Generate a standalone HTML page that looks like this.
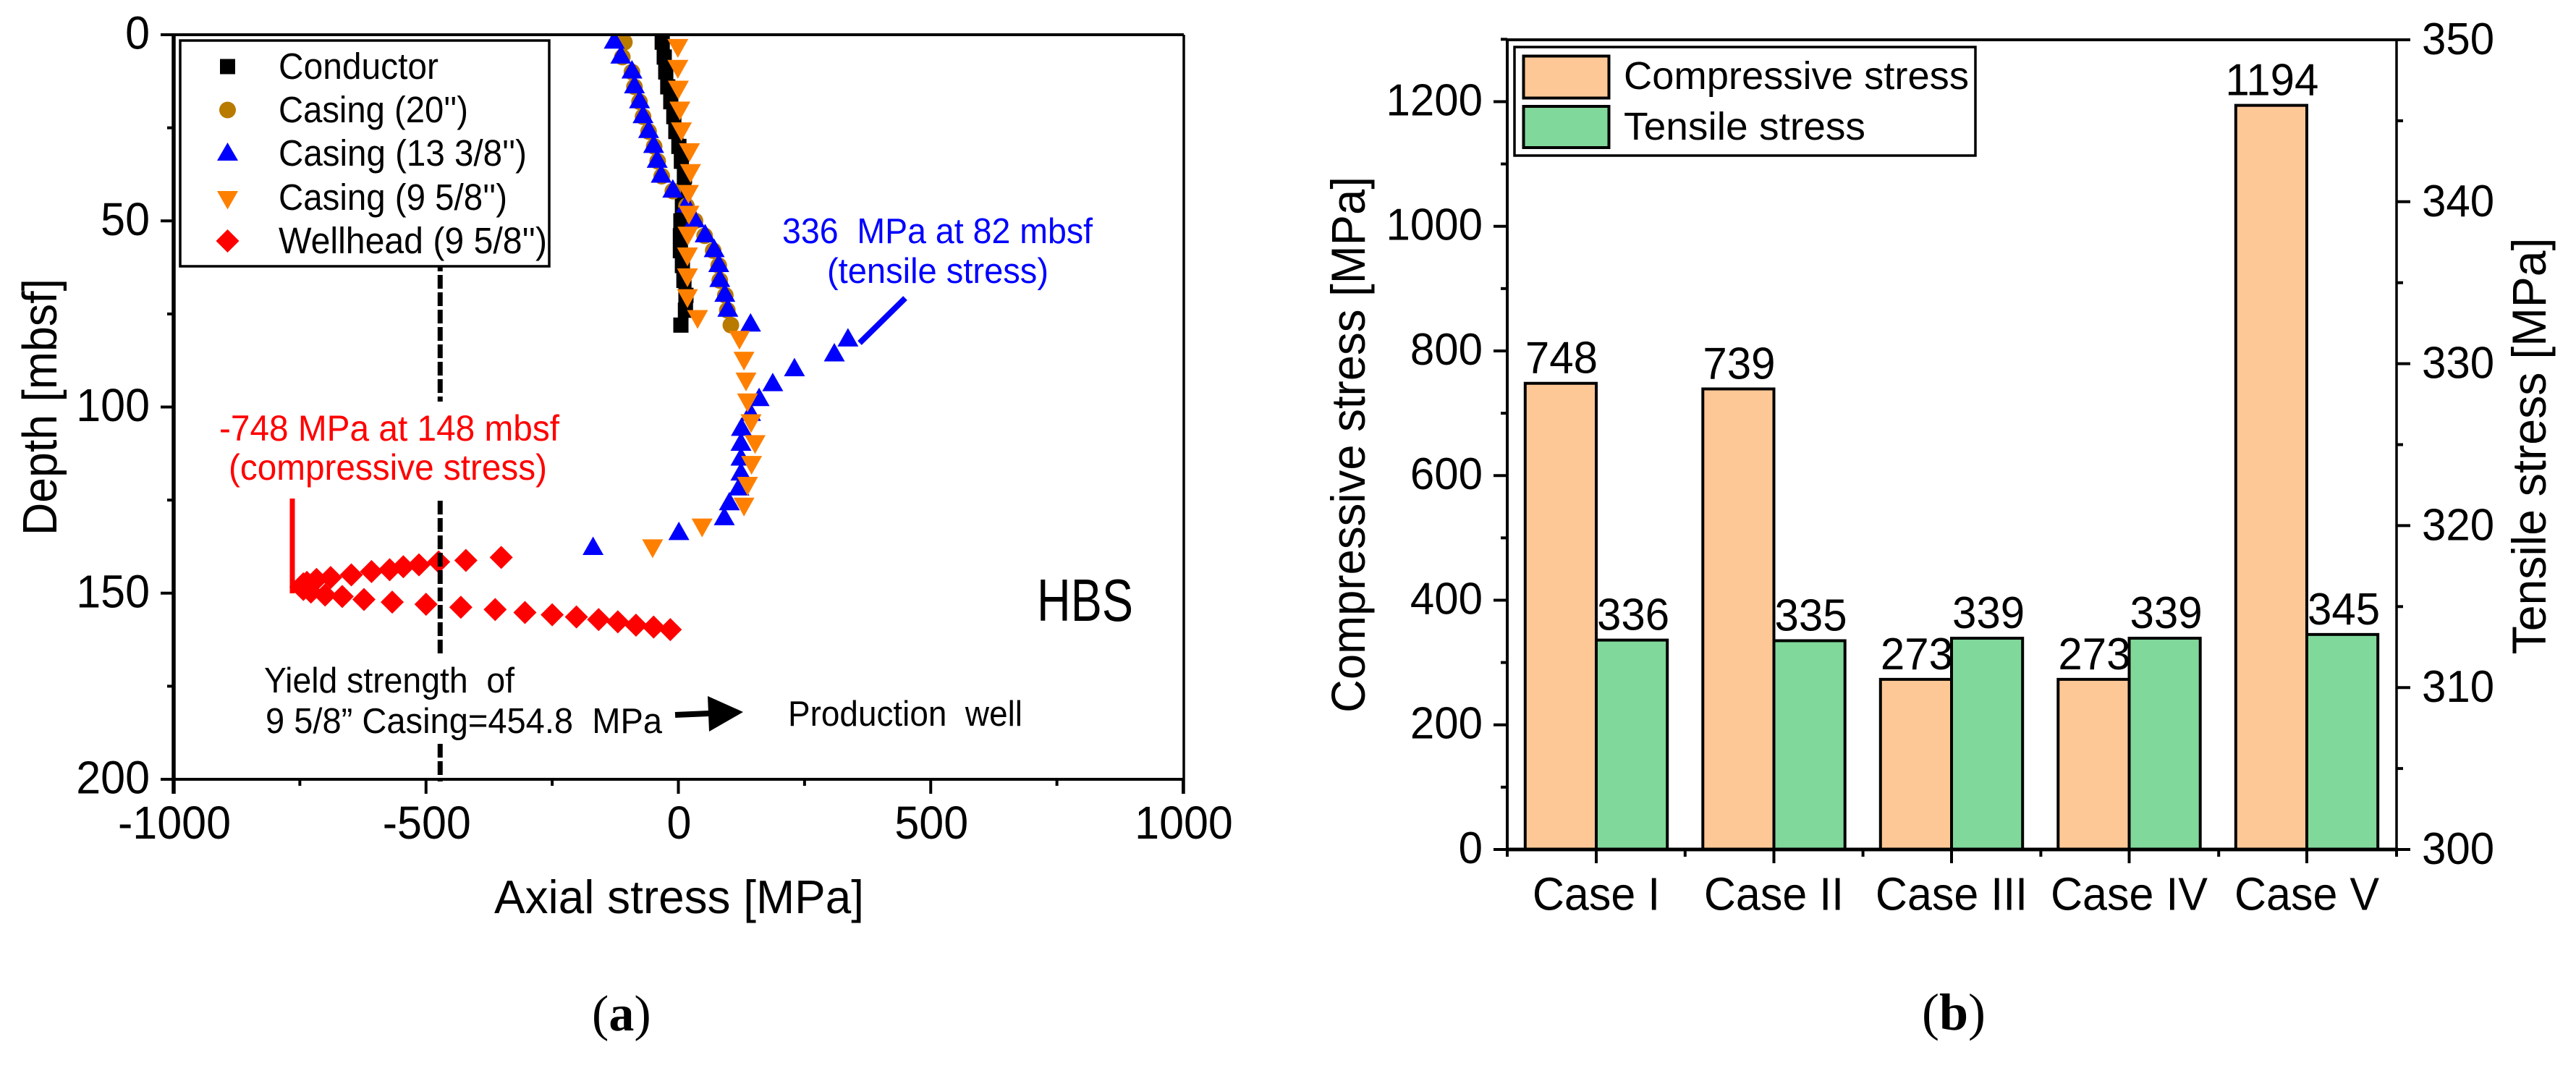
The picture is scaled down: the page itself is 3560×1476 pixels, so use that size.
<!DOCTYPE html>
<html lang="en">
<head>
<meta charset="utf-8">
<title>Axial stress charts</title>
<style>
html,body{margin:0;padding:0;background:#fff;}
svg{display:block;}
text{font-family:"Liberation Sans",Arial,sans-serif;white-space:pre;}
.serif{font-family:"Liberation Serif","Times New Roman",serif;}
</style>
</head>
<body>
<svg xmlns="http://www.w3.org/2000/svg" width="3560" height="1476" viewBox="0 0 3560 1476">
<defs><clipPath id="plot-a-clip"><rect x="240" y="48" width="1396" height="1029"/></clipPath></defs>
<rect x="0" y="0" width="3560" height="1476" fill="#fff"/>

<g id="a-series" clip-path="url(#plot-a-clip)"></g>
<g id="a-yield"></g>

<rect x="295" y="555" width="485" height="136" fill="#fff"/>
<rect x="360" y="904" width="560" height="122" fill="#fff"/>
<g id="a-axes"></g>

<text x="303" y="609" font-size="50" fill="#ff0000" textLength="470" lengthAdjust="spacingAndGlyphs">-748 MPa at 148 mbsf</text>
<text x="316" y="663" font-size="50" fill="#ff0000" textLength="440" lengthAdjust="spacingAndGlyphs">(compressive stress)</text>
<line x1="404" y1="689" x2="404" y2="820" stroke="#ff0000" stroke-width="7"/>

<text x="1081" y="336" font-size="49" fill="#0000ff" textLength="429" lengthAdjust="spacingAndGlyphs">336  MPa at 82 mbsf</text>
<text x="1143" y="391" font-size="49" fill="#0000ff" textLength="306" lengthAdjust="spacingAndGlyphs">(tensile stress)</text>
<line x1="1251" y1="412" x2="1188" y2="474" stroke="#0000ff" stroke-width="8"/>

<text x="365" y="957" font-size="49" fill="#000" textLength="346" lengthAdjust="spacingAndGlyphs">Yield strength  of</text>
<text x="367" y="1013" font-size="49" fill="#000" textLength="548" lengthAdjust="spacingAndGlyphs">9 5/8” Casing=454.8  MPa</text>
<line x1="933" y1="988" x2="980" y2="986" stroke="#000" stroke-width="8"/>
<polygon points="978,962 1027,984 980,1011" fill="#000"/>
<text x="1089" y="1003" font-size="49" fill="#000" textLength="324" lengthAdjust="spacingAndGlyphs">Production  well</text>
<text x="1433" y="858" font-size="83" fill="#000" textLength="133" lengthAdjust="spacingAndGlyphs">HBS</text>

<g>
<rect x="249" y="56" width="510" height="312" fill="#fff" stroke="#000" stroke-width="3.5"/>
<rect x="304" y="81.5" width="21" height="21" fill="#000"/>
<ellipse cx="314.5" cy="152" rx="11.5" ry="11.5" fill="#b97a00"/>
<polygon points="314.5,197 329,222 300,222" fill="#0000ff"/>
<polygon points="300,264 329,264 314.5,289.5" fill="#ff8000"/>
<polygon points="314.5,317 330.5,333 314.5,349 298.5,333" fill="#ff0000"/>
<text x="385" y="109" font-size="51" textLength="221" lengthAdjust="spacingAndGlyphs">Conductor</text>
<text x="385" y="169" font-size="51" textLength="262" lengthAdjust="spacingAndGlyphs">Casing (20'')</text>
<text x="385" y="229" font-size="51" textLength="343" lengthAdjust="spacingAndGlyphs">Casing (13 3/8'')</text>
<text x="385" y="290" font-size="51" textLength="316" lengthAdjust="spacingAndGlyphs">Casing (9 5/8'')</text>
<text x="385" y="350" font-size="51" textLength="371" lengthAdjust="spacingAndGlyphs">Wellhead (9 5/8'')</text>
</g>

<text transform="translate(78,740) rotate(-90)" font-size="67" textLength="355" lengthAdjust="spacingAndGlyphs">Depth [mbsf]</text>
<text x="683" y="1262" font-size="65" textLength="511" lengthAdjust="spacingAndGlyphs">Axial stress [MPa]</text>
<text class="serif" x="818" y="1424" font-size="70">(<tspan font-weight="bold">a</tspan>)</text>

<g id="b-labels"></g>
<g id="b-bars"></g>
<g id="b-axes"></g>

<g>
<rect x="2093" y="65" width="637" height="150" fill="#fff" stroke="#000" stroke-width="3.5"/>
<rect x="2105.5" y="77.5" width="118" height="58" fill="#fec896" stroke="#000" stroke-width="4"/>
<rect x="2105.5" y="147" width="118" height="57" fill="#80d89a" stroke="#000" stroke-width="4"/>
<text x="2244" y="123" font-size="54" textLength="477" lengthAdjust="spacingAndGlyphs">Compressive stress</text>
<text x="2244" y="193" font-size="54" textLength="334" lengthAdjust="spacingAndGlyphs">Tensile stress</text>
</g>

<text transform="translate(1886,985) rotate(-90)" font-size="66" textLength="741" lengthAdjust="spacingAndGlyphs">Compressive stress [MPa]</text>
<text transform="translate(3518,904.5) rotate(-90)" font-size="66" textLength="576" lengthAdjust="spacingAndGlyphs">Tensile stress [MPa]</text>
<text class="serif" x="2656" y="1423" font-size="72">(<tspan font-weight="bold">b</tspan>)</text>

<script>
// ---------- Panel (a) data ----------
const conductorDepth=[2,6,10,14,18,22,26,30,34,38,42,46,50,54,58,62,66,70,74,78];
const conductorStress=[-32,-28,-25,-21,-15,-9,-5,1,6,12,11,8,5,4,4,8,11,15,14,5];
const casing20Depth=[2,6,10,14,18,22,26,30,34,38,42,46,50,54,58,62,66,70,74,78];
const casing20Stress=[-107,-111,-92,-87,-77,-70,-59,-48,-41,-33,-11,16,33,52,69,80,82,93,97,104];
const casing13Depth=[2,6,10,14,18,22,26,30,34,38,42,46,50,54,58,62,66,70,74,78,82,86,90,94,98,102,106,110,114,118,122,126,130,134,138];
const casing13Stress=[-127,-114,-92,-87,-77,-70,-59,-49,-42,-34,-11,16,32,53,71,80,82,92,98,143,336,309,230,187,160,143,125,124,124,124,120,101,91,1,-169];
const casing9Depth=[2.8,8.4,14,19.6,25.2,30.8,36.4,42,47.6,53.2,58.8,64.4,70,75.6,81.2,86.8,92.4,98,103.6,109.2,114.8,120.4,126,131.6,137.2];
const casing9Stress=[-1,-1,0,3,6,22,24,20,21,19,18,18,18,38,121,130,134,137,144,152,145,137,130,47,-51];
const wellheadDepth=[140.4,141.2,141.6,142.4,142.9,143.7,144.2,145.1,145.8,146.3,147.1,147.5,148.3,149,149.7,150.5,150.9,151.7,152.4,153,153.8,154.4,155.2,155.8,156.4,157.1,157.7,158.6,159.1,159.8];
const wellheadStress=[-351,-421,-475,-514,-545,-572,-608,-648,-689,-717,-736,-743,-748,-743,-728,-700,-666,-623,-567,-500,-431,-363,-304,-250,-202,-158,-120,-84,-49,-16];
const yieldStress=[-472];
const aXMajor=[-1000,-500,0,500,1000];
const aXMinor=[-750,-250,250,750];
const aYMajor=[0,50,100,150,200];
const aYMinor=[25,75,125,175];

// ---------- Panel (b) data ----------
const caseNames=['Case I','Case II','Case III','Case IV','Case V'];
const compressiveValues=[748,739,273,273,1194];
const tensileValues=[336,335,339,339,345];
const bLeftMajor=[0,200,400,600,800,1000,1200];
const bLeftMinor=[100,300,500,700,900,1100,1300];
const bRightMajor=[300,310,320,330,340,350];
const bRightMinor=[305,315,325,335,345];

// ---------- Scales ----------
const xA=v=>937.5+v*0.6975;
const yA=d=>48+d*5.145;
const yB=v=>1174-v*0.8613;
const yBR=v=>1174-(v-300)*22.38;
const xBBand=i=>2206+i*245.5;
const xBEdge=i=>2083+i*245.8;
const barWidth=98.2;

const NS='http://www.w3.org/2000/svg';
function make(tag,attrs,parent){
  const el=document.createElementNS(NS,tag);
  for(const k in attrs){el.setAttribute(k,attrs[k]);}
  parent.appendChild(el);
  return el;
}
// Keep glyphs taller than their natural width, as in the reference.
function squeeze(el,ratio){
  el.setAttribute('textLength',el.getComputedTextLength()*ratio);
  el.setAttribute('lengthAdjust','spacingAndGlyphs');
}
const gSeries=document.getElementById('a-series');
const gYield=document.getElementById('a-yield');
const gAAxes=document.getElementById('a-axes');
const gLabels=document.getElementById('b-labels');
const gBars=document.getElementById('b-bars');
const gBAxes=document.getElementById('b-axes');

// ---------- Panel (a) series ----------
conductorStress.forEach((v,i)=>{
  const cx=xA(v),cy=yA(conductorDepth[i]);
  const el=make('rect',{x:cx-10.5,y:cy-10.5,width:21,height:21,fill:'#000'},gSeries);
  
  
});
casing20Stress.forEach((v,i)=>{
  const el=make('circle',{cx:xA(v),cy:yA(casing20Depth[i]),r:11.5,fill:'#b97a00'},gSeries);
  
  
});
casing13Stress.forEach((v,i)=>{
  const cx=xA(v),cy=yA(casing13Depth[i]);
  const el=make('polygon',{points:`${cx},${cy-16.5} ${cx+14.5},${cy+9} ${cx-14.5},${cy+9}`,fill:'#0000ff'},gSeries);
  
  
});
casing9Stress.forEach((v,i)=>{
  const cx=xA(v),cy=yA(casing9Depth[i]);
  const el=make('polygon',{points:`${cx-14.5},${cy-8.5} ${cx+14.5},${cy-8.5} ${cx},${cy+17.5}`,fill:'#ff8000'},gSeries);
  
  
});
wellheadStress.forEach((v,i)=>{
  const cx=xA(v),cy=yA(wellheadDepth[i]);
  const el=make('polygon',{points:`${cx},${cy-16} ${cx+16},${cy} ${cx},${cy+16} ${cx-16},${cy}`,fill:'#ff0000'},gSeries);
  
  
});
yieldStress.forEach(v=>{
  const el=make('line',{x1:xA(v),y1:356,x2:xA(v),y2:1080,stroke:'#000','stroke-width':7,'stroke-dasharray':'19 5'},gYield);
  
  
});

// ---------- Panel (a) axes ----------
[[240,48,240,1097,5.5],[1636,48,1636,1097,3.5],[238,48,1636,48,4],[238,1077,1636,1077,4]].forEach(s=>{
  const el=make('line',{x1:s[0],y1:s[1],x2:s[2],y2:s[3],stroke:'#000','stroke-width':s[4]},gAAxes);
  
  
});
aYMajor.forEach(v=>{
  const tick=make('line',{x1:222,y1:yA(v),x2:240,y2:yA(v),stroke:'#000','stroke-width':4},gAAxes);
  
  
  const label=make('text',{x:207,y:yA(v)+19.5,'font-size':64,'text-anchor':'end'},gAAxes);
  label.textContent=String(v);
  squeeze(label,61/64);
  
  
});
aYMinor.forEach(v=>{
  const tick=make('line',{x1:231,y1:yA(v),x2:240,y2:yA(v),stroke:'#000','stroke-width':4},gAAxes);
  
  
});
aXMajor.forEach(v=>{
  const tick=make('line',{x1:xA(v),y1:1077,x2:xA(v),y2:1097,stroke:'#000','stroke-width':4},gAAxes);
  
  
  const label=make('text',{x:xA(v)+1,y:1159,'font-size':64,'text-anchor':'middle'},gAAxes);
  label.textContent=String(v);
  squeeze(label,61/64);
  
  
});
aXMinor.forEach(v=>{
  const tick=make('line',{x1:xA(v),y1:1077,x2:xA(v),y2:1086,stroke:'#000','stroke-width':4},gAAxes);
  
  
});

// ---------- Panel (b) labels then bars ----------
caseNames.forEach((name,i)=>{
  const c=xBBand(i);
  const cLabel=make('text',{x:c-barWidth/2+1,y:yB(compressiveValues[i])-14,'font-size':62,'text-anchor':'middle'},gLabels);
  cLabel.textContent=String(compressiveValues[i]);
  squeeze(cLabel,60/62);
  
  
  const tLabel=make('text',{x:c+barWidth/2+2,y:yB(tensileValues[i])-14,'font-size':62,'text-anchor':'middle'},gLabels);
  tLabel.textContent=String(tensileValues[i]);
  squeeze(tLabel,60/62);
  
  
  const cBar=make('rect',{x:c-barWidth,y:yB(compressiveValues[i]),width:barWidth,height:1174-yB(compressiveValues[i]),fill:'#fec896',stroke:'#000','stroke-width':4},gBars);
  
  
  const tBar=make('rect',{x:c,y:yB(tensileValues[i]),width:barWidth,height:1174-yB(tensileValues[i]),fill:'#80d89a',stroke:'#000','stroke-width':4},gBars);
  
  
  const tick=make('line',{x1:c,y1:1174,x2:c,y2:1193,stroke:'#000','stroke-width':4},gBAxes);
  
  
  const nameLabel=make('text',{x:c,y:1257.5,'font-size':64,'text-anchor':'middle'},gBAxes);
  nameLabel.textContent=name;
  squeeze(nameLabel,61/64);
  
  
});
for(let i=0;i<=caseNames.length;i++){
  const tick=make('line',{x1:xBEdge(i),y1:1174,x2:xBEdge(i),y2:1184,stroke:'#000','stroke-width':4},gBAxes);
  
  
}

// ---------- Panel (b) axes ----------
[[2083,55,2083,1184,4],[3312,55,3312,1184,3.5],[2081,55,3314,55,4],[2081,1174,3314,1174,5]].forEach(s=>{
  const el=make('line',{x1:s[0],y1:s[1],x2:s[2],y2:s[3],stroke:'#000','stroke-width':s[4]},gBAxes);
  
  
});
bLeftMajor.forEach(v=>{
  const tick=make('line',{x1:2064,y1:yB(v),x2:2083,y2:yB(v),stroke:'#000','stroke-width':4},gBAxes);
  
  
  const label=make('text',{x:2049,y:yB(v)+19,'font-size':62,'text-anchor':'end'},gBAxes);
  label.textContent=String(v);
  squeeze(label,60/62);
  
  
});
bLeftMinor.forEach(v=>{
  const tick=make('line',{x1:2074,y1:yB(v),x2:2083,y2:yB(v),stroke:'#000','stroke-width':4},gBAxes);
  
  
});
bRightMajor.forEach(v=>{
  const tick=make('line',{x1:3312,y1:yBR(v),x2:3331,y2:yBR(v),stroke:'#000','stroke-width':4},gBAxes);
  
  
  const label=make('text',{x:3347,y:yBR(v)+20,'font-size':62},gBAxes);
  label.textContent=String(v);
  squeeze(label,60/62);
  
  
});
bRightMinor.forEach(v=>{
  const tick=make('line',{x1:3312,y1:yBR(v),x2:3321,y2:yBR(v),stroke:'#000','stroke-width':4},gBAxes);
  
  
});
</script>
</svg>
</body>
</html>
